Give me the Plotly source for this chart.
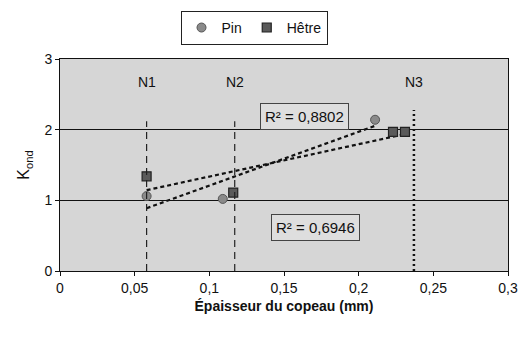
import numpy as np
import plotly.graph_objects as go

# Data
pin_x = [0.058, 0.109, 0.211]
pin_y = [1.06, 1.02, 2.14]
hetre_x = [0.058, 0.116, 0.223, 0.231]
hetre_y = [1.34, 1.11, 1.97, 1.97]
n_labels = ["N1", "N2", "N3"]
n_x = [0.058, 0.117, 0.237]
n_top = [2.12, 2.12, 2.28]
r2_labels = ["R² = 0,8802", "R² = 0,6946"]
r2_x = [0.164, 0.171]
r2_y = [2.19, 0.62]
x_ticks = [0, 0.05, 0.1, 0.15, 0.2, 0.25, 0.3]
y_ticks = [0, 1, 2, 3]

FONT = "Liberation Sans, Arial, sans-serif"
fig = go.Figure()

# trendlines (least-squares fit of each series, as Excel does)
for xs, ys in [(pin_x, pin_y), (hetre_x, hetre_y)]:
    a, b = np.polyfit(xs, ys, 1)
    tx = [min(xs), max(xs)]
    fig.add_trace(go.Scatter(x=tx, y=[a * v + b for v in tx], mode="lines",
                             line=dict(color="#111111", width=2.2, dash="4px,3px"),
                             showlegend=False, hoverinfo="skip"))

fig.add_trace(go.Scatter(x=pin_x, y=pin_y, mode="markers", name="Pin",
                         marker=dict(symbol="circle", size=9, color="#8a8a8a",
                                     line=dict(color="#555555", width=1))))
fig.add_trace(go.Scatter(x=hetre_x, y=hetre_y, mode="markers", name="Hêtre",
                         marker=dict(symbol="square", size=9, color="#5a5a5a",
                                     line=dict(color="#222222", width=1.2))))

# vertical reference lines
for i, (lab, xv, top) in enumerate(zip(n_labels, n_x, n_top)):
    if i < 2:
        ln = dict(color="#222222", width=1.2, dash="7px,5px")
    else:
        ln = dict(color="#111111", width=2.5, dash="2px,3px")
    fig.add_shape(type="line", x0=xv, x1=xv, y0=0, y1=top, xref="x", yref="y", line=ln)
    fig.add_annotation(x=xv, y=2.67, text=lab, showarrow=False,
                       font=dict(family=FONT, size=14, color="#111111"))

for lab, xv, yv in zip(r2_labels, r2_x, r2_y):
    fig.add_annotation(x=xv, y=yv, text=lab, showarrow=False,
                       font=dict(family=FONT, size=15, color="#111111"),
                       bordercolor="#444444", borderwidth=1, borderpad=4,
                       bgcolor="#dedede")

# page body has an 8px margin: figure is sized/offset accordingly
fig.update_layout(
    width=519, height=332,
    margin=dict(l=52, r=19, t=51, b=69, autoexpand=False),
    paper_bgcolor="white", plot_bgcolor="#d6d6d6",
    separators=", ",
    font=dict(family=FONT, size=14, color="#111111"),
    legend=dict(orientation="h", xref="container", yref="container",
                x=0.474, xanchor="center", y=0.94, yanchor="middle",
                bordercolor="#222222", borderwidth=1, bgcolor="white",
                font=dict(family=FONT, size=14), itemwidth=30,
                tracegroupgap=0),
    showlegend=True,
)
fig.update_xaxes(range=[0, 0.3], tickvals=x_ticks, ticks="outside", ticklen=4,
                 tickcolor="#111111", showgrid=False, zeroline=False, automargin=False,
                 showline=True, linecolor="#111111", linewidth=1, mirror=True,
                 title=dict(text="<b>Épaisseur du copeau (mm)</b>", standoff=6,
                            font=dict(family=FONT, size=14)))
fig.update_yaxes(range=[0, 3], tickvals=y_ticks, ticks="outside", ticklen=4,
                 tickcolor="#111111", showgrid=True, gridcolor="#111111", gridwidth=1,
                 zeroline=False, showline=True, linecolor="#111111", linewidth=1,
                 mirror=True, automargin=False,
                 title=dict(text="K<sub>ond</sub>", standoff=10,
                            font=dict(family=FONT, size=16)))

fig.write_html("out.html")
